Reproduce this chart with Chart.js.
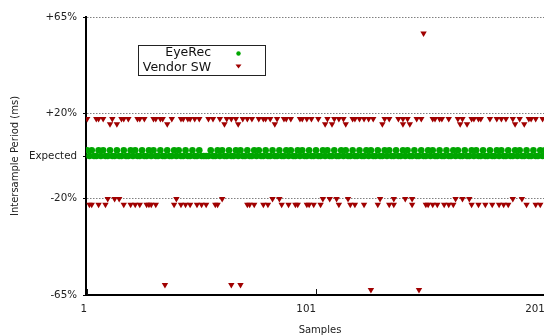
<!DOCTYPE html>
<html>
<head>
<meta charset="utf-8">
<script src="https://cdn.jsdelivr.net/npm/chart.js@4.4.0/dist/chart.umd.min.js"></script>
<style>
  html, body { margin: 0; padding: 0; background: #fff; overflow: hidden; }
  #wrap { width: 560px; height: 336px; }
</style>
</head>
<body>
<div id="wrap"><canvas id="chart" width="560" height="336"></canvas></div>
<script>
// axis ticks
var xTickValues = [1, 101, 201];
var yTickValues = [65, 20, 0, -20, -65];
var yTickLabels = ['+65%', '+20%', 'Expected', '-20%', '-65%'];
var yGridValues = [65, 20, -20];

var seriesLabels = ['EyeRec', 'Vendor SW'];

// EyeRec deviation (% of expected period), one value per sample, samples 1..203
var eyeRecValues = [
    2.7, 0, 2.7, 0, 0, 2.7, 0, 2.7, 0, 0,
    2.7, 0, 0, 2.7, 0, 0, 2.7, 0, 0, 2.7,
    0, 2.7, 0, 0, 2.7, 0, 0, 2.7, 0, 2.7,
    0, 0, 2.7, 0, 0, 2.7, 0, 0, 2.7, 0,
    2.7, 0, 0, 2.7, 0, 0, 2.7, 0, 0, 2.7,
    0, 0, 0, 0, 2.7, 0, 0, 2.7, 0, 2.7,
    0, 0, 2.7, 0, 0, 2.7, 0, 2.7, 0, 0,
    2.7, 0, 0, 2.7, 0, 2.7, 0, 0, 2.7, 0,
    0, 2.7, 0, 0, 2.7, 0, 0, 2.7, 0, 2.7,
    0, 0, 2.7, 0, 2.7, 0, 0, 2.7, 0, 0,
    2.7, 0, 0, 2.7, 0, 2.7, 0, 0, 2.7, 0,
    0, 2.7, 0, 2.7, 0, 0, 2.7, 0, 0, 2.7,
    0, 0, 2.7, 0, 2.7, 0, 0, 2.7, 0, 0,
    2.7, 0, 2.7, 0, 0, 2.7, 0, 0, 2.7, 0,
    2.7, 0, 0, 2.7, 0, 0, 2.7, 0, 0, 2.7,
    0, 2.7, 0, 0, 2.7, 0, 0, 2.7, 0, 0,
    2.7, 0, 2.7, 0, 0, 2.7, 0, 0, 2.7, 0,
    2.7, 0, 0, 2.7, 0, 0, 2.7, 0, 0, 2.7,
    0, 2.7, 0, 0, 2.7, 0, 0, 2.7, 0, 2.7,
    0, 0, 2.7, 0, 0, 2.7, 0, 0, 2.7, 0,
    2.7, 0, 0
];

// Vendor SW: the level values and the samples that sit on each level
var vendorLevels = [17.4, 14.9, -20, -22.7];
var vendorHighSamples = [1, 5, 6, 8, 12, 16, 17, 19, 23, 24, 26, 30, 31, 33, 34, 38, 42, 43, 45, 46, 48, 50,
    54, 56, 59, 62, 64, 66, 69, 71, 73, 76, 78, 79, 81, 84, 87, 88, 90, 94, 95, 97, 99,
    102, 106, 109, 111, 113, 117, 118, 120, 122, 124, 126, 131, 133, 137, 139, 141, 145, 147,
    152, 153, 155, 156, 159, 163, 165, 169, 170, 172, 173, 177, 180, 182, 184, 187, 190, 194, 195, 197, 200, 202];
var vendorHigh2Samples = [11, 14, 36, 61, 67, 83, 105, 108, 114, 130, 139, 142, 164, 167, 188, 192];
var vendorLowSamples = [10, 13, 15, 40, 60, 82, 85, 104, 107, 110, 115, 129, 135, 140, 143, 162, 165, 168, 187, 191];
var vendorLow2Samples = [2, 3, 6, 9, 17, 20, 22, 24, 27, 28, 29, 31, 39, 42, 44, 46, 49, 51, 53, 57, 58,
    71, 72, 74, 78, 80, 86, 89, 92, 93, 97, 98, 100, 103, 111, 116, 118, 122, 128, 133, 135, 143,
    149, 150, 152, 154, 157, 159, 161, 169, 172, 175, 178, 181, 183, 185, 193, 197, 199];
var vendorSpikeSamples = [35, 64, 68, 125, 146, 148];
var vendorSpikeValues = [-60.2, -60.2, -60.2, -62.6, -62.6, 57.4];

var eyeRecColor = '#00a600';
var vendorColor = '#a00000';

Chart.defaults.font.family = '"DejaVu Sans", Verdana, sans-serif';

var eyeRecPoints = eyeRecValues.map(function(v, i) { return { x: i + 1, y: v }; });

var vendorPoints = [];
[vendorHighSamples, vendorHigh2Samples, vendorLowSamples, vendorLow2Samples].forEach(function(list, k) {
    list.forEach(function(s) { vendorPoints.push({ x: s, y: vendorLevels[k] }); });
});
vendorSpikeSamples.forEach(function(s, i) {
    vendorPoints.push({ x: s, y: vendorSpikeValues[i] });
});

// gnuplot style key: text right aligned, sample symbol on the right, boxed
var keyBox = {
    id: 'keyBox',
    afterDraw: function(chart) {
        var ctx = chart.ctx;
        ctx.save();
        ctx.strokeStyle = '#222';
        ctx.lineWidth = 1;
        ctx.strokeRect(138.5, 45.5, 127, 30);
        ctx.font = '12.5px "DejaVu Sans"';
        ctx.fillStyle = '#111';
        ctx.textAlign = 'right';
        ctx.textBaseline = 'middle';
        ctx.fillText(chart.data.datasets[0].label, 211, 53);
        ctx.fillText(chart.data.datasets[1].label, 211, 67.5);
        // green dot
        ctx.fillStyle = eyeRecColor;
        ctx.beginPath();
        ctx.arc(238.5, 53.5, 2.2, 0, Math.PI * 2);
        ctx.fill();
        // red down triangle
        ctx.fillStyle = vendorColor;
        ctx.beginPath();
        ctx.moveTo(235.5, 64.5);
        ctx.lineTo(241.5, 64.5);
        ctx.lineTo(238.5, 68.5);
        ctx.closePath();
        ctx.fill();
        ctx.restore();
    }
};

// x ticks point inwards
var innerTicks = {
    id: 'innerTicks',
    afterDraw: function(chart) {
        var ctx = chart.ctx;
        var xs = chart.scales.x;
        var bottom = chart.chartArea.bottom;
        ctx.save();
        ctx.strokeStyle = '#111';
        ctx.lineWidth = 1;
        xTickValues.forEach(function(v) {
            var px = Math.round(xs.getPixelForValue(v)) + 0.5;
            ctx.beginPath();
            ctx.moveTo(px, bottom);
            ctx.lineTo(px, bottom - 6);
            ctx.stroke();
        });
        ctx.restore();
    }
};

new Chart(document.getElementById('chart'), {
    type: 'scatter',
    data: {
        datasets: [{
            label: seriesLabels[0],
            data: eyeRecPoints,
            pointStyle: 'circle',
            pointRadius: 3.3,
            pointBorderWidth: 0,
            backgroundColor: eyeRecColor,
            borderColor: eyeRecColor
        }, {
            label: seriesLabels[1],
            data: vendorPoints,
            pointStyle: 'triangle',
            pointRotation: 180,
            pointRadius: 3.7,
            pointBorderWidth: 0,
            backgroundColor: vendorColor,
            borderColor: vendorColor
        }]
    },
    options: {
        responsive: false,
        animation: false,
        devicePixelRatio: 1,
        layout: { padding: { left: 0, top: 17, right: 6, bottom: 0 } },
        plugins: {
            legend: { display: false },
            tooltip: { enabled: false }
        },
        scales: {
            x: {
                type: 'linear',
                min: 0.5,
                max: 205,
                afterBuildTicks: function(scale) {
                    scale.ticks = xTickValues.map(function(v) { return { value: v }; });
                },
                afterFit: function(scale) { scale.height = 41; },
                grid: { display: false, drawTicks: false },
                border: { display: true, color: '#000', width: 2 },
                ticks: {
                    align: 'end',
                    padding: 8,
                    color: '#222',
                    maxRotation: 0,
                    autoSkip: false,
                    font: { size: 10.3 },
                    callback: function(v) { return String(v); }
                },
                title: {
                    display: true,
                    text: 'Samples',
                    color: '#222',
                    font: { size: 10 },
                    padding: { top: 0, bottom: 0 }
                }
            },
            y: {
                type: 'linear',
                min: -65,
                max: 65,
                afterBuildTicks: function(scale) {
                    scale.ticks = yTickValues.map(function(v) { return { value: v }; });
                },
                afterFit: function(scale) { scale.width = 86; },
                grid: {
                    color: function(ctx) {
                        return ctx.tick && yGridValues.indexOf(ctx.tick.value) >= 0 ? '#808080' : 'rgba(0,0,0,0)';
                    },
                    lineWidth: 1,
                    drawTicks: true,
                    tickLength: 3,
                    tickColor: '#000',
                    tickWidth: 1
                },
                border: { display: true, color: '#000', width: 2, dash: [1.5, 1.5] },
                ticks: {
                    padding: 6,
                    color: '#222',
                    font: { size: 10.3 },
                    callback: function(v) { return yTickLabels[yTickValues.indexOf(v)]; }
                },
                title: {
                    display: true,
                    text: 'Intersample Period (ms)',
                    color: '#222',
                    font: { size: 10 },
                    padding: { top: 9, bottom: 0 }
                }
            }
        }
    },
    plugins: [keyBox, innerTicks]
});
</script>
</body>
</html>
